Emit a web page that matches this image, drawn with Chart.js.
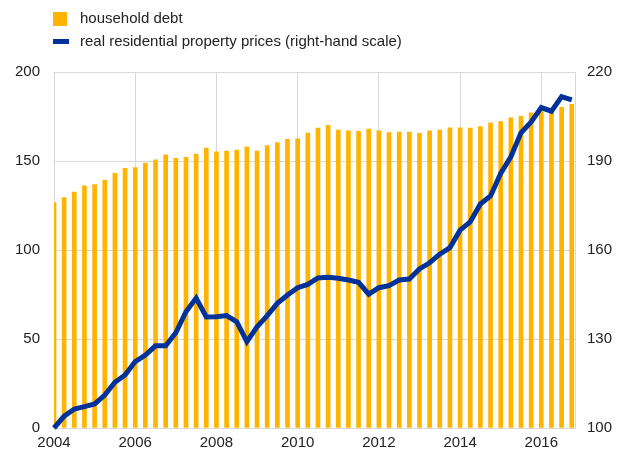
<!DOCTYPE html>
<html>
<head>
<meta charset="utf-8">
<script src="https://cdn.jsdelivr.net/npm/chart.js@4"></script>
<style>
  body { margin: 0; background: #fff; }
  #wrap { position: relative; width: 617px; height: 453px; }
  .legend { position: absolute; left: 53px; font: 15px "Liberation Sans", Arial, sans-serif; color: #222; }
  .legend span.box { position: absolute; left: 0; }
  .legend span.txt { position: absolute; left: 27px; white-space: nowrap; }
</style>
</head>
<body>
<div id="wrap">
  <canvas id="chart" width="617" height="453"></canvas>
  <div class="legend" style="top:9px">
    <span class="box" style="top:3px;width:14px;height:14px;background:#FFB400"></span>
    <span class="txt">household debt</span>
  </div>
  <div class="legend" style="top:32px">
    <span class="box" style="top:7px;width:16px;height:5px;background:#003299"></span>
    <span class="txt">real residential property prices (right-hand scale)</span>
  </div>
</div>
<script>
// Quarterly data, 2004 Q1 - 2016 Q4
const startYear = 2004;
const yearTicks = [2004, 2006, 2008, 2010, 2012, 2014, 2016];

const householdDebt = [
  126.6, 129.4, 132.6, 136.0, 136.7, 139.1, 143.1, 145.9,
  146.3, 148.9, 150.6, 153.4, 151.5, 152.1, 153.9, 157.3,
  155.2, 155.6, 156.2, 157.9, 155.6, 158.6, 160.3, 162.2,
  162.5, 165.7, 168.5, 170.0, 167.4, 167.0, 166.7, 168.0,
  166.9, 165.9, 166.3, 166.3, 165.5, 167.0, 167.4, 168.7,
  168.7, 168.5, 169.3, 171.5, 172.1, 174.2, 175.1, 177.1,
  177.7, 178.1, 180.2, 181.9
];

const propertyPrices = [
  100.0, 104.0, 106.4, 107.2, 108.1, 111.1, 115.4, 117.9,
  122.4, 124.6, 127.7, 127.7, 132.1, 139.2, 143.8, 137.4,
  137.5, 137.9, 135.8, 129.1, 134.1, 137.9, 142.0, 144.8,
  147.3, 148.4, 150.6, 150.8, 150.5, 149.9, 149.1, 145.1,
  147.3, 148.0, 149.9, 150.2, 153.6, 155.7, 158.6, 160.8,
  166.7, 169.5, 175.5, 178.2, 185.8, 191.4, 199.5, 203.2,
  208.0, 206.8, 211.7, 210.6
];

const quarterX = householdDebt.map((v, i) => startYear + i / 4);

const font = { family: '"Liberation Sans", Arial, sans-serif', size: 15 };
const gridColor = '#d9d9d9';

new Chart(document.getElementById('chart'), {
  type: 'bar',
  data: {
    datasets: [
      {
        type: 'line',
        label: 'real residential property prices (right-hand scale)',
        data: propertyPrices.map((v, i) => ({ x: quarterX[i], y: v })),
        yAxisID: 'y2',
        borderColor: '#003299',
        borderWidth: 5,
        pointRadius: 0,
        tension: 0,
        order: 0,
        clip: 6
      },
      {
        label: 'household debt',
        data: householdDebt.map((v, i) => ({ x: quarterX[i], y: v })),
        yAxisID: 'y',
        backgroundColor: '#FFB400',
        barThickness: 4,
        order: 1
      }
    ]
  },
  options: {
    responsive: false,
    animation: false,
    layout: { padding: { top: 72, left: 0, right: 0, bottom: 0 } },
    plugins: { legend: { display: false }, tooltip: { enabled: false } },
    scales: {
      x: {
        type: 'linear',
        offset: false,
        min: 2004,
        max: 2016.83,
        afterBuildTicks: s => { s.ticks = yearTicks.map(v => ({ value: v })); },
        afterFit: s => { s.height = 25; },
        ticks: { font, color: '#222', padding: 6, maxRotation: 0, callback: v => String(v) },
        grid: { color: gridColor, drawTicks: false, offset: false },
        border: { color: gridColor }
      },
      y: {
        position: 'left',
        min: 0,
        max: 200,
        afterFit: s => { s.width = 54; },
        ticks: { stepSize: 50, font, color: '#222', padding: 14 },
        grid: { color: gridColor, drawTicks: false },
        border: { color: gridColor }
      },
      y2: {
        position: 'right',
        min: 100,
        max: 220,
        afterFit: s => { s.width = 42; },
        ticks: { stepSize: 30, font, color: '#222', padding: 12 },
        grid: { display: false, drawTicks: false },
        border: { color: gridColor }
      }
    }
  }
});
</script>
</body>
</html>
